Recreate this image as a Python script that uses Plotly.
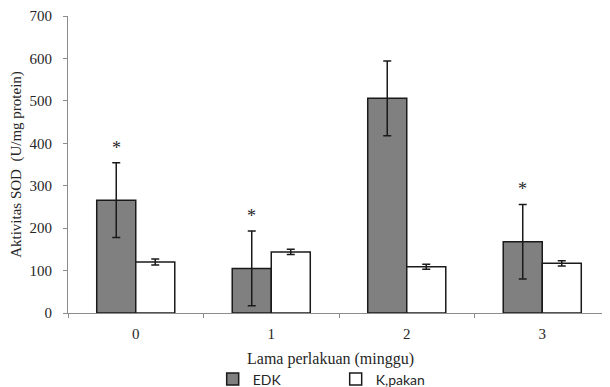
import plotly.graph_objects as go

weeks = ["0", "1", "2", "3"]
edk = [266, 105, 506, 168]
edk_err = [88, 88, 88, 88]
kpakan = [120, 144, 109, 117]
kpakan_err = [7, 6, 6, 6]
edk_signif = [True, True, False, True]
x_title = "Lama perlakuan (minggu)"
y_title = "Aktivitas SOD\u00a0 (U/mg protein)"

serif = "Liberation Serif"
ink = "#262626"
axis_col = "#8c8c8c"

fig = go.Figure()
fig.add_trace(go.Bar(
    x=weeks, y=edk, name="EDK",
    marker=dict(color="#808080", line=dict(color="#1a1a1a", width=1.5)),
    error_y=dict(type="data", array=edk_err, visible=True, color="#1a1a1a", thickness=1.5, width=4),
))
fig.add_trace(go.Bar(
    x=weeks, y=kpakan, name="K,pakan",
    marker=dict(color="white", line=dict(color="#1a1a1a", width=1.5)),
    error_y=dict(type="data", array=kpakan_err, visible=True, color="#1a1a1a", thickness=1.5, width=4),
))

for w, v, e, s in zip(weeks, edk, edk_err, edk_signif):
    if s:
        fig.add_annotation(x=w, y=v + e, text="*", showarrow=False, xshift=-19.5, yshift=15,
                           font=dict(family=serif, size=18, color=ink))

# x-axis title as a fixed annotation under the tick labels
fig.add_annotation(x=0.485, y=0, xref="paper", yref="paper", text=x_title, showarrow=False,
                   xanchor="center", yanchor="middle", yshift=-46,
                   font=dict(family=serif, size=16, color=ink))

# page has an 8px body margin, so the figure is sized/placed to compensate
fig.update_layout(
    width=602, height=379,
    margin=dict(l=60, r=0, t=8, b=74, autoexpand=False),
    paper_bgcolor="white", plot_bgcolor="white",
    barmode="group", bargap=0.424, bargroupgap=0,
    showlegend=True,
    legend=dict(orientation="h", x=0.34, xref="container", xanchor="left",
                y=0.062, yref="container", yanchor="top",
                itemwidth=30, entrywidth=78, entrywidthmode="pixels",
                font=dict(family="Lato", size=14, color=ink), itemclick=False),
    font=dict(family=serif, color=ink),
)
fig.update_xaxes(
    type="category", showline=True, linecolor=axis_col, linewidth=1.2,
    ticks="outside", tickson="boundaries", ticklen=4, tickcolor=axis_col,
    tickfont=dict(family=serif, size=15, color=ink), ticklabelstandoff=7,
    showgrid=False, automargin=False,
)
fig.update_yaxes(
    range=[0, 700], dtick=100, showline=True, linecolor=axis_col, linewidth=1.2,
    ticks="outside", ticklen=4, tickcolor=axis_col, zeroline=False, showgrid=False,
    tickfont=dict(family=serif, size=15, color=ink), ticklabelstandoff=8,
    title=dict(text=y_title, font=dict(family=serif, size=15, color=ink), standoff=8),
    automargin=False,
)

fig.write_html("out.html")
